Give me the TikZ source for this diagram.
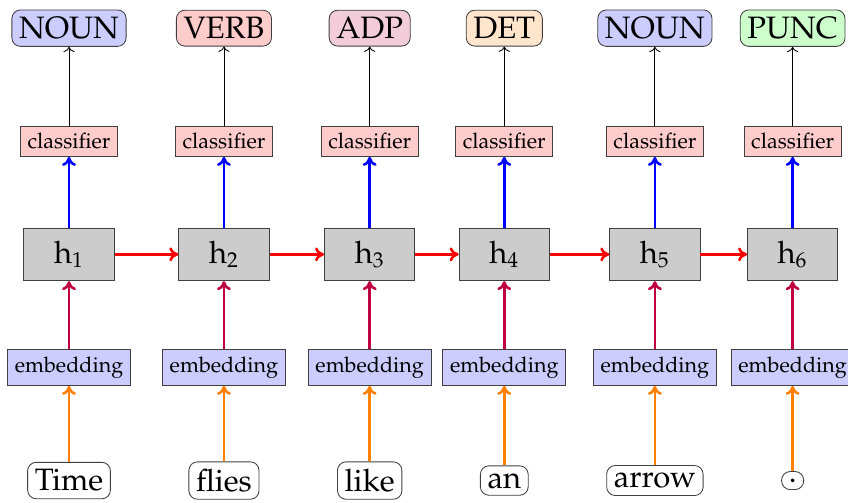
\documentclass[tikz,border=0pt]{standalone}
\usepackage[T1]{fontenc}
\usepackage{mathpazo}
\usetikzlibrary{positioning,arrows.meta}
\tikzset{
    word/.style = {draw=black!75, rounded corners, font=\Large},
    embed/.style = {draw=black!75, fill=blue!20, rectangle},
    hidden/.style = {draw=black!75, fill=gray!40, rectangle,
        minimum width=42pt, minimum height=24.5pt, font=\Large},
    classif/.style = {draw=black!75, fill=red!20, rectangle},
    tag/.style = {draw=black!75, rounded corners, font=\Large},
    thickarrow/.style = {-{To[length=4.2pt,width=6.5pt]}, very thick},
    inarrow/.style = {draw=orange, thickarrow},
    embarrow/.style = {draw=purple, thickarrow},
    recarrow/.style = {draw=red, thickarrow},
    outarrow/.style = {draw=blue, thickarrow},
    tagarrow/.style = {draw=black, -{To}}
}

\begin{document}
\begin{tikzpicture}[auto, node distance=52.6pt]
    \useasboundingbox (-32.1pt,-10pt) rectangle (362.3pt,223.5pt);
    % input words
    \node [word] (w1) {Time};
    \node [word, right=36.1pt of w1] (w2) {flies};
    \node [word, right=36.1pt of w2] (w3) {like};
    \node [word, right=36.1pt of w3] (w4) {an};
    \node [word, right=36.1pt of w4] (w5) {arrow};
    \node [word, right=36.1pt of w5] (w6) {.};
    % one column per word
    \foreach \i/\tg/\col in {1/NOUN/blue, 2/VERB/red, 3/ADP/purple, 4/DET/orange, 5/NOUN/blue, 6/PUNC/green} {
        \node [embed, above of=w\i] (e\i) {embedding};
        \node [hidden, above of=e\i] (h\i) {$\mathrm{h}_{\i}$};
        \node [classif, above of=h\i] (c\i) {classifier};
        \node [tag, fill=\col!20, above of=c\i] (t\i) {\tg};
        \draw [inarrow] (w\i) -- (e\i);
        \draw [embarrow] (e\i) -- (h\i);
        \draw [outarrow] (h\i) -- (c\i);
        \draw [tagarrow] (c\i) -- (t\i);
    }
    % recurrence
    \foreach \i/\j in {1/2, 2/3, 3/4, 4/5, 5/6}
        \draw [recarrow] (h\i) -- (h\j);
\end{tikzpicture}
\end{document}
